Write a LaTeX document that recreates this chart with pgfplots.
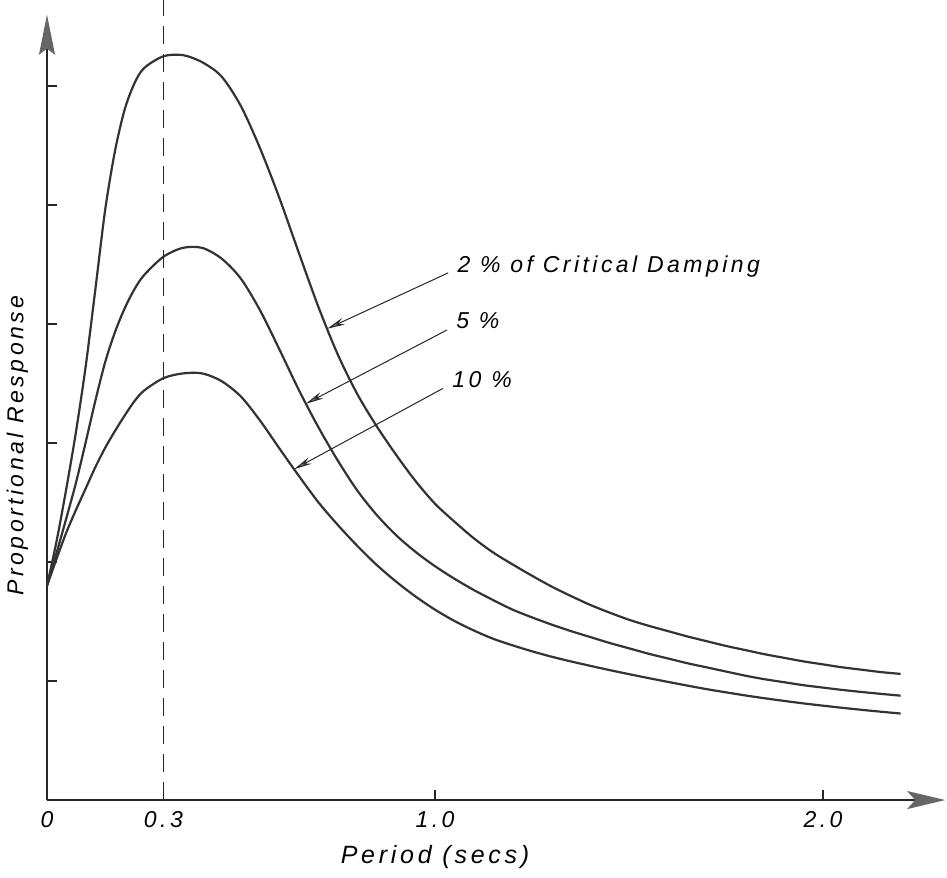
\documentclass[border=0pt]{standalone}
\usepackage{fontspec}
\setmainfont{Liberation Sans}
\newfontfamily\lettering{Liberation Sans}[LetterSpace=15]
\usepackage{pgfplots}
\pgfplotsset{compat=1.18}
\usetikzlibrary{arrows.meta}
\newcommand{\lf}{\lettering\itshape\fontsize{11.5}{13}\selectfont}
\newcommand{\lfb}{\lettering\itshape\fontsize{12.5}{14}\selectfont}

% 2 % of critical damping
\pgfplotstableread{
x y
0     1.80
0.025 2.18
0.05  2.62
0.075 3.10
0.1   3.65
0.125 4.30
0.15  4.96
0.175 5.45
0.2   5.80
0.225 6.02
0.25  6.15
0.3   6.25
0.35  6.26
0.4   6.20
0.45  6.08
0.5   5.83
0.55  5.47
0.6   5.05
0.65  4.59
0.7   4.14
0.75  3.74
0.8   3.41
0.85  3.14
0.9   2.90
0.95  2.68
1.0   2.49
1.05  2.34
1.1   2.20
1.15  2.08
1.2   1.98
1.25  1.885
1.3   1.795
1.35  1.715
1.4   1.64
1.45  1.575
1.5   1.515
1.55  1.465
1.6   1.42
1.65  1.375
1.7   1.335
1.75  1.295
1.8   1.26
1.85  1.225
1.9   1.195
1.95  1.165
2.0   1.14
2.05  1.115
2.1   1.095
2.15  1.075
2.2   1.06
}\damptwo

% 5 %
\pgfplotstableread{
x y
0     1.80
0.025 2.08
0.05  2.37
0.075 2.67
0.1   3.01
0.125 3.36
0.15  3.68
0.175 3.93
0.2   4.13
0.225 4.29
0.25  4.41
0.3   4.565
0.35  4.64
0.4   4.64
0.45  4.55
0.5   4.38
0.55  4.11
0.6   3.78
0.65  3.44
0.7   3.13
0.75  2.85
0.8   2.60
0.85  2.395
0.9   2.225
0.95  2.085
1.0   1.965
1.05  1.86
1.1   1.765
1.15  1.68
1.2   1.60
1.25  1.535
1.3   1.475
1.35  1.42
1.4   1.37
1.45  1.32
1.5   1.275
1.55  1.23
1.6   1.19
1.65  1.15
1.7   1.115
1.75  1.08
1.8   1.045
1.85  1.015
1.9   0.99
1.95  0.965
2.0   0.945
2.05  0.925
2.1   0.908
2.15  0.892
2.2   0.877
}\dampfive

% 10 %
\pgfplotstableread{
x y
0     1.80
0.025 2.03
0.05  2.25
0.075 2.44
0.1   2.62
0.125 2.80
0.15  2.96
0.175 3.10
0.2   3.23
0.225 3.35
0.25  3.44
0.3   3.545
0.35  3.585
0.4   3.585
0.45  3.52
0.5   3.39
0.55  3.185
0.6   2.95
0.65  2.72
0.7   2.50
0.75  2.31
0.8   2.135
0.85  1.975
0.9   1.835
0.95  1.71
1.0   1.60
1.05  1.505
1.1   1.425
1.15  1.355
1.2   1.30
1.25  1.25
1.3   1.205
1.35  1.165
1.4   1.128
1.45  1.092
1.5   1.058
1.55  1.025
1.6   0.993
1.65  0.962
1.7   0.932
1.75  0.905
1.8   0.879
1.85  0.855
1.9   0.833
1.95  0.812
2.0   0.793
2.05  0.775
2.1   0.758
2.15  0.742
2.2   0.727
}\dampten

\begin{document}
\begin{tikzpicture}
\begin{axis}[
  x=194pt, y=59.5pt,
  xmin=0, xmax=2.315, ymin=0, ymax=6.6,
  axis lines=left,
  axis line style={line width=0.9pt, black!85},
  x axis line style={-{Stealth[length=19pt,width=9pt,inset=4pt,fill=black!60,color=black!60]}},
  y axis line style={-{Stealth[length=20pt,width=8pt,inset=3pt,fill=black!60,color=black!60]}},
  xtick={0,0.3,1,2}, xticklabels={0,0.3,1.0,2.0},
  ytick={1,2,3,4,5,6}, yticklabels={},
  tick align=inside, major tick length=5pt,
  tick style={line width=0.7pt, black!85},
  ticklabel style={font=\lf},
  xticklabel style={yshift=-2pt},
  xlabel={Period (secs)}, ylabel={Proportional Response},
  xlabel style={font=\lfb, at={(rel axis cs:0.432,-0.0727)}, anchor=center},
  ylabel style={font=\lf, at={(rel axis cs:-0.033,0.4515)}, anchor=center},
  clip=false,
]
\addplot[black!80, line width=1.1pt, smooth] table[x=x,y=y] {\damptwo};
\addplot[black!80, line width=1.1pt, smooth] table[x=x,y=y] {\dampfive};
\addplot[black!80, line width=1.1pt, smooth] table[x=x,y=y] {\dampten};

\draw[black!85, line width=0.6pt, dash pattern=on 9pt off 5pt] (axis cs:0.3,0) -- (axis cs:0.3,6.72);

\draw[black!85, line width=0.5pt, -{Stealth[length=9pt,width=3.5pt,fill=black!55]}] (axis cs:1.034,4.43) -- (axis cs:0.722,3.96);
\draw[black!85, line width=0.5pt, -{Stealth[length=9pt,width=3.5pt,fill=black!55]}] (axis cs:1.031,3.95) -- (axis cs:0.667,3.33);
\draw[black!85, line width=0.5pt, -{Stealth[length=9pt,width=3.5pt,fill=black!55]}] (axis cs:1.021,3.46) -- (axis cs:0.637,2.78);

\node[anchor=base west, font=\lf, inner sep=0pt] at (axis cs:1.057,4.43) {2 \% of Critical Damping};
\node[anchor=base west, font=\lf, inner sep=0pt] at (axis cs:1.054,3.96) {5 \%};
\node[anchor=base west, font=\lf, inner sep=0pt] at (axis cs:1.044,3.47) {10 \%};

\coordinate (BL) at (axis cs:-0.1211,-0.647);
\coordinate (TR) at (axis cs:2.3196,6.723);
\end{axis}
\pgfresetboundingbox
\path[use as bounding box] (BL) rectangle (TR);
\end{tikzpicture}
\end{document}
